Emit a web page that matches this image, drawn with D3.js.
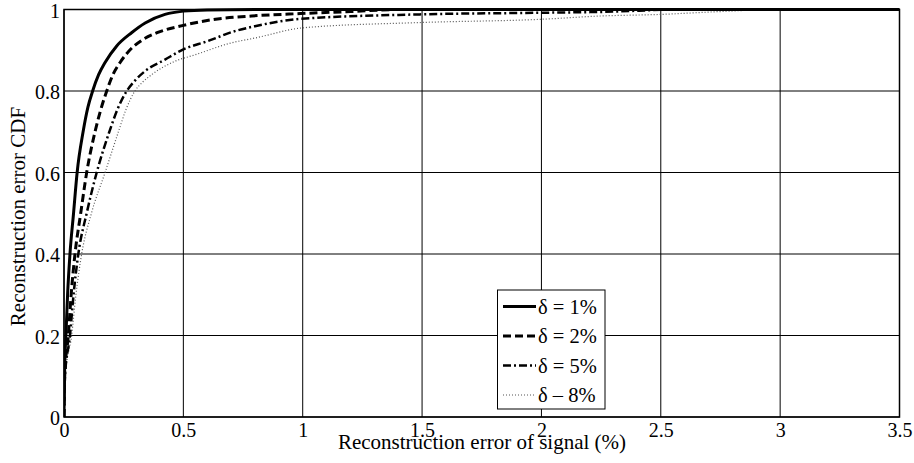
<!DOCTYPE html>
<html>
<head>
<meta charset="utf-8">
<script src="https://cdn.jsdelivr.net/npm/d3@7"></script>
<style>
  html, body { margin: 0; padding: 0; background: #fff; }
  svg { display: block; }
  text { font-family: "Liberation Serif", "Times New Roman", serif; fill: #000; }
</style>
</head>
<body>
<svg id="chart" width="914" height="463"></svg>
<script>
// ---- Data ----
const xTicks = [0, 0.5, 1, 1.5, 2, 2.5, 3, 3.5];
const yTicks = [0, 0.2, 0.4, 0.6, 0.8, 1];
const xTickLabels = ["0", "0.5", "1", "1.5", "2", "2.5", "3", "3.5"];
const yTickLabels = ["0", "0.2", "0.4", "0.6", "0.8", "1"];
const seriesNames = ["δ = 1%", "δ = 2%", "δ = 5%", "δ – 8%"];

// error (%) and CDF values
const err1 = [0, 0.002, 0.008, 0.015, 0.025, 0.04, 0.055, 0.08, 0.10, 0.12, 0.145, 0.172, 0.22, 0.283, 0.34, 0.423, 0.5, 0.6, 0.8, 1.0, 3.5];
const cdf1 = [0, 0.10, 0.20, 0.30, 0.40, 0.50, 0.60, 0.70, 0.76, 0.80, 0.84, 0.87, 0.91, 0.943, 0.967, 0.988, 0.996, 0.999, 1.0, 1.0, 1.0];

const err2 = [0, 0.003, 0.018, 0.03, 0.046, 0.07, 0.095, 0.13, 0.152, 0.179, 0.205, 0.235, 0.28, 0.33, 0.39, 0.5, 0.62, 0.786, 0.99, 1.2, 1.41, 3.5];
const cdf2 = [0, 0.10, 0.20, 0.30, 0.40, 0.50, 0.60, 0.70, 0.75, 0.80, 0.84, 0.87, 0.903, 0.926, 0.943, 0.961, 0.975, 0.984, 0.99, 0.995, 1.0, 1.0];

const err3 = [0, 0.004, 0.025, 0.04, 0.06, 0.095, 0.137, 0.19, 0.224, 0.263, 0.298, 0.34, 0.423, 0.5, 0.6, 0.716, 0.8, 0.99, 1.49, 2.0, 2.245, 2.6, 3.5];
const cdf3 = [0, 0.10, 0.20, 0.30, 0.40, 0.50, 0.60, 0.70, 0.755, 0.80, 0.826, 0.849, 0.877, 0.902, 0.922, 0.947, 0.959, 0.977, 0.988, 0.992, 0.994, 1.0, 1.0];

const err4 = [0, 0.005, 0.032, 0.05, 0.074, 0.115, 0.172, 0.228, 0.26, 0.297, 0.33, 0.367, 0.465, 0.55, 0.70, 0.8, 1.0, 1.49, 2.0, 2.245, 2.5, 2.75, 2.985, 3.5];
const cdf4 = [0, 0.10, 0.20, 0.30, 0.40, 0.50, 0.60, 0.70, 0.755, 0.80, 0.822, 0.84, 0.873, 0.889, 0.918, 0.930, 0.955, 0.968, 0.976, 0.984, 0.988, 0.995, 1.0, 1.0];

// ---- Layout ----
const svg = d3.select("#chart");
const mLeft = 64, mRight = 899.5, mTop = 9.5, mBottom = 417;
const x = d3.scaleLinear().domain([0, 3.5]).range([mLeft, mRight]);
const y = d3.scaleLinear().domain([0, 1]).range([mBottom, mTop]);

// grid
const grid = svg.append("g");
grid.selectAll("line.vx").data(xTicks).enter().append("line")
  .attr("x1", d => x(d)).attr("x2", d => x(d))
  .attr("y1", mTop).attr("y2", mBottom)
  .attr("stroke", "#000").attr("stroke-width", 1);
grid.selectAll("line.hy").data(yTicks).enter().append("line")
  .attr("x1", mLeft).attr("x2", mRight)
  .attr("y1", d => y(d)).attr("y2", d => y(d))
  .attr("stroke", "#000").attr("stroke-width", 1);

// axes (labels only; ticks drawn as gridlines)
const xAxis = d3.axisBottom(x).tickValues(xTicks).tickSize(0).tickPadding(0)
  .tickFormat((d, i) => xTickLabels[i]);
const gx = svg.append("g").attr("transform", `translate(0,${mBottom})`).call(xAxis);
gx.select(".domain").remove();
gx.attr("font-family", "'Liberation Serif', serif");
gx.selectAll("text").attr("font-size", 20).attr("dy", "1.0em")
  .style("font-family", "'Liberation Serif', serif");

const yAxis = d3.axisLeft(y).tickValues(yTicks).tickSize(0).tickPadding(4)
  .tickFormat((d, i) => yTickLabels[i]);
const gy = svg.append("g").attr("transform", `translate(${mLeft},0)`).call(yAxis);
gy.select(".domain").remove();
gy.attr("font-family", "'Liberation Serif', serif");
gy.selectAll("text").attr("font-size", 20).attr("dy", "0.38em")
  .style("font-family", "'Liberation Serif', serif");

// lines
const seriesData = [
  { e: err1, c: cdf1, dash: null, w: 3, col: "#000" },
  { e: err2, c: cdf2, dash: "8,4", w: 3, col: "#000" },
  { e: err3, c: cdf3, dash: "8,3,2,3", w: 2.5, col: "#000" },
  { e: err4, c: cdf4, dash: "1,2", w: 1.2, col: "#555" }
];
const line = d3.line().x(d => x(d[0])).y(d => y(d[1])).curve(d3.curveMonotoneX);
svg.append("clipPath").attr("id", "clip").append("rect")
  .attr("x", mLeft).attr("y", mTop - 2).attr("width", mRight - mLeft).attr("height", mBottom - mTop + 2);
const lines = svg.append("g").attr("clip-path", "url(#clip)");
seriesData.slice().reverse().forEach(s => {
  const pts = s.e.map((v, i) => [v, s.c[i]]);
  lines.append("path").datum(pts)
    .attr("d", line)
    .attr("fill", "none")
    .attr("stroke", s.col)
    .attr("stroke-width", s.w)
    .attr("stroke-dasharray", s.dash)
    .attr("stroke-linejoin", "round");
});

// frame
svg.append("rect").attr("x", mLeft).attr("y", mTop)
  .attr("width", mRight - mLeft).attr("height", mBottom - mTop)
  .attr("fill", "none").attr("stroke", "#000").attr("stroke-width", 1.5);

// legend
const lg = svg.append("g");
lg.append("rect").attr("x", 497.5).attr("y", 290).attr("width", 107.5).attr("height", 119)
  .attr("fill", "#fff").attr("stroke", "#000").attr("stroke-width", 1);
const rowY = [306.5, 336, 365.5, 395];
seriesData.forEach((s, i) => {
  lg.append("line").attr("x1", 503).attr("x2", 536)
    .attr("y1", rowY[i]).attr("y2", rowY[i])
    .attr("stroke", s.col).attr("stroke-width", s.w)
    .attr("stroke-dasharray", s.dash);
  lg.append("text").attr("x", 538).attr("y", rowY[i]).attr("dy", "0.35em")
    .attr("font-size", 20.5).text(seriesNames[i]);
});

// axis titles
svg.append("text").attr("x", 482).attr("y", 448.5)
  .attr("text-anchor", "middle").attr("font-size", 21)
  .text("Reconstruction error of signal (%)");
svg.append("text")
  .attr("transform", `translate(25,216.5) rotate(-90)`)
  .attr("text-anchor", "middle").attr("font-size", 21)
  .text("Reconstruction error CDF");
</script>
</body>
</html>
